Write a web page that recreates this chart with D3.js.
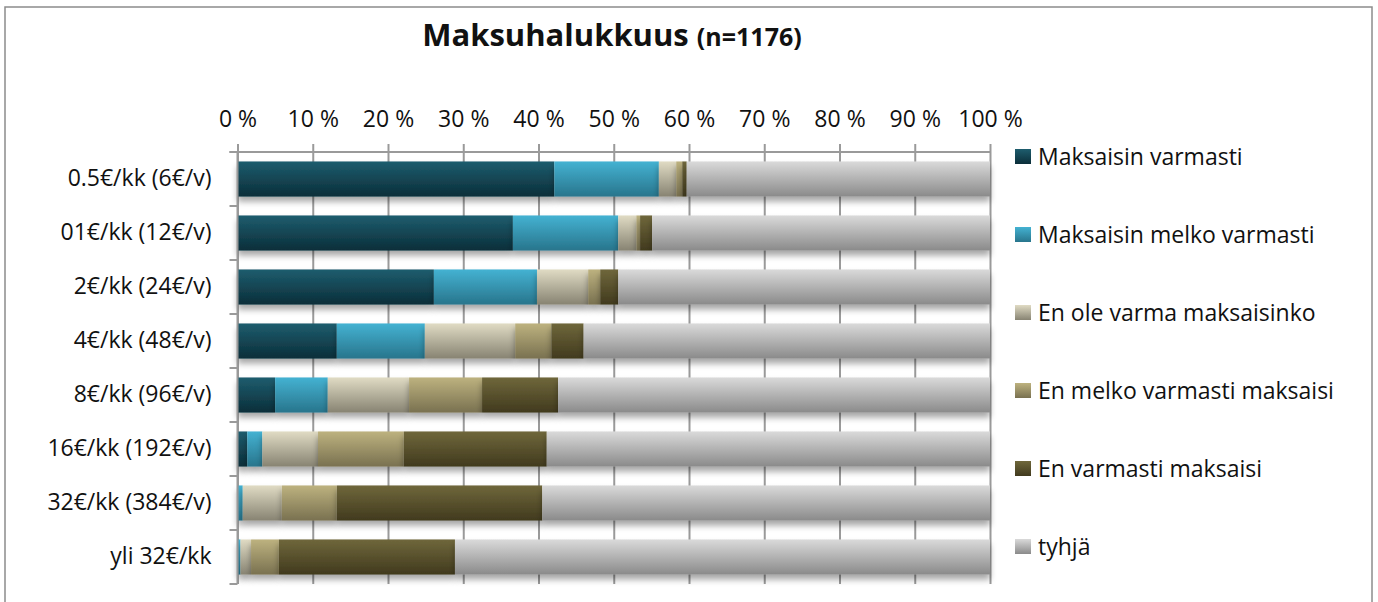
<!DOCTYPE html>
<html>
<head>
<meta charset="utf-8">
<script src="https://cdn.jsdelivr.net/npm/d3@7"></script>
<style>
  body { margin: 0; background: #fff; }
  svg text { font-family: "Open Sans", "Noto Sans", sans-serif; fill: #111; }
  .axis-label { font-size: 23px; }
  .axis path { display: none; }
</style>
</head>
<body>
<div id="chart"></div>
<script>
const width = 1378;
const height = 602;
const marginTop = 152;
const marginLeft = 237.5;
const plotRight = 990;
const plotBottom = 584;

// Data (percent of respondents)
const categories = ['0.5€/kk (6€/v)', '01€/kk (12€/v)', '2€/kk (24€/v)', '4€/kk (48€/v)',
  '8€/kk (96€/v)', '16€/kk (192€/v)', '32€/kk (384€/v)', 'yli 32€/kk'];
const seriesNames = ['Maksaisin varmasti', 'Maksaisin melko varmasti', 'En ole varma maksaisinko',
  'En melko varmasti maksaisi', 'En varmasti maksaisi', 'tyhjä'];
const maksaisinVarmasti = [42.1, 36.6, 26.1, 13.2, 5.0, 1.3, 0.1, 0.1];
const maksaisinMelko = [13.9, 14.0, 13.7, 11.7, 7.0, 2.0, 0.6, 0.3];
const enOleVarma = [2.3, 2.4, 6.8, 12.0, 10.8, 7.4, 5.2, 1.4];
const enMelko = [0.8, 0.5, 1.6, 4.8, 9.7, 11.4, 7.3, 3.7];
const enVarmasti = [0.6, 1.6, 2.4, 4.3, 10.1, 19.0, 27.3, 23.4];
const tyhja = [40.3, 44.9, 49.4, 54.0, 57.4, 58.9, 59.5, 71.1];
const tickValues = [0, 10, 20, 30, 40, 50, 60, 70, 80, 90, 100];

const seriesValues = [maksaisinVarmasti, maksaisinMelko, enOleVarma, enMelko, enVarmasti, tyhja];
// gradient colours, top / bottom
const colors = [
  ['#1e5d6e', '#0b2e39'],
  ['#44b2d2', '#28758c'],
  ['#e0dbc4', '#878372'],
  ['#bdb27f', '#797150'],
  ['#6f673b', '#413a1e'],
  ['#dadada', '#8a8a8a']
];

const rows = categories.map((c, i) => {
  const row = { category: c };
  seriesNames.forEach((s, j) => row[s] = seriesValues[j][i]);
  return row;
});
const stacked = d3.stack().keys(seriesNames)(rows);

const x = d3.scaleLinear().domain([0, 100]).range([marginLeft, plotRight]);
const y = d3.scaleBand()
  .domain(categories)
  .range([marginTop, plotBottom])
  .paddingInner(0.35)
  .paddingOuter(0.175);

const svg = d3.select('#chart')
  .append('svg')
  .attr('width', width)
  .attr('height', height);

const defs = svg.append('defs');
colors.forEach((c, i) => {
  const g = defs.append('linearGradient')
    .attr('id', 'grad' + i)
    .attr('x1', 0).attr('y1', 0).attr('x2', 0).attr('y2', 1);
  g.append('stop').attr('offset', '0%').attr('stop-color', c[0]);
  g.append('stop').attr('offset', '100%').attr('stop-color', c[1]);
});
const shadow = defs.append('filter').attr('id', 'shadow')
  .attr('x', '-2%').attr('y', '-20%').attr('width', '104%').attr('height', '160%');
shadow.append('feDropShadow')
  .attr('dx', 0).attr('dy', 5).attr('stdDeviation', 3)
  .attr('flood-color', '#000').attr('flood-opacity', 0.35);

// Outer frame
svg.append('rect')
  .attr('x', 5).attr('y', 7)
  .attr('width', 1367).attr('height', 610)
  .attr('fill', 'none')
  .attr('stroke', '#8c8c8c')
  .attr('stroke-width', 1.5);

// Title
svg.append('text')
  .attr('x', 612)
  .attr('y', 46)
  .attr('text-anchor', 'middle')
  .style('font-weight', 'bold')
  .style('font-size', '31px')
  .call(t => {
    t.append('tspan').text('Maksuhalukkuus ');
    t.append('tspan').style('font-size', '25px').text('(n=1176)');
  });

// Vertical gridlines
svg.append('g')
  .attr('class', 'axis')
  .attr('transform', `translate(0,${marginTop})`)
  .call(d3.axisTop(x).tickValues(tickValues).tickSize(-(plotBottom - marginTop)).tickFormat(''))
  .call(g => g.selectAll('line').attr('stroke', '#9a9a9a').attr('stroke-width', 2));

// Top axis with labels
svg.append('g')
  .attr('class', 'axis')
  .attr('transform', `translate(0,${marginTop})`)
  .call(d3.axisTop(x).tickValues(tickValues).tickSize(8).tickPadding(17).tickFormat(d => d + ' %'))
  .call(g => g.selectAll('line').attr('stroke', '#9a9a9a').attr('stroke-width', 2))
  .call(g => g.selectAll('text').attr('class', 'axis-label'));

svg.append('line')
  .attr('x1', marginLeft - 8).attr('x2', plotRight)
  .attr('y1', marginTop).attr('y2', marginTop)
  .attr('stroke', '#9a9a9a').attr('stroke-width', 2);

// Bars
svg.append('g')
  .selectAll('g')
  .data(stacked)
  .join('g')
  .attr('fill', (d, i) => `url(#grad${i})`)
  .attr('filter', 'url(#shadow)')
  .selectAll('rect')
  .data(d => d)
  .join('rect')
  .attr('x', d => x(d[0]))
  .attr('y', d => y(d.data.category))
  .attr('width', d => x(d[1]) - x(d[0]))
  .attr('height', y.bandwidth());

// Left axis
svg.append('line')
  .attr('x1', marginLeft).attr('x2', marginLeft)
  .attr('y1', marginTop).attr('y2', plotBottom)
  .attr('stroke', '#9a9a9a').attr('stroke-width', 2);
svg.append('g')
  .selectAll('line')
  .data(d3.range(categories.length + 1))
  .join('line')
  .attr('x1', marginLeft - 8).attr('x2', marginLeft)
  .attr('y1', i => marginTop + i * y.step())
  .attr('y2', i => marginTop + i * y.step())
  .attr('stroke', '#9a9a9a').attr('stroke-width', 2);

svg.append('g')
  .attr('class', 'axis')
  .attr('transform', `translate(${marginLeft},0)`)
  .call(d3.axisLeft(y).tickSize(0).tickPadding(26))
  .call(g => g.selectAll('text').attr('class', 'axis-label'));

// Legend
const legend = svg.append('g')
  .selectAll('g')
  .data(seriesNames)
  .join('g')
  .attr('transform', (d, i) => `translate(1015,${157 + i * 78})`);
legend.append('rect')
  .attr('y', -8)
  .attr('width', 16).attr('height', 15)
  .attr('fill', (d, i) => `url(#grad${i})`);
legend.append('text')
  .attr('x', 23)
  .attr('dy', '0.35em')
  .attr('class', 'axis-label')
  .text(d => d);
</script>
</body>
</html>
